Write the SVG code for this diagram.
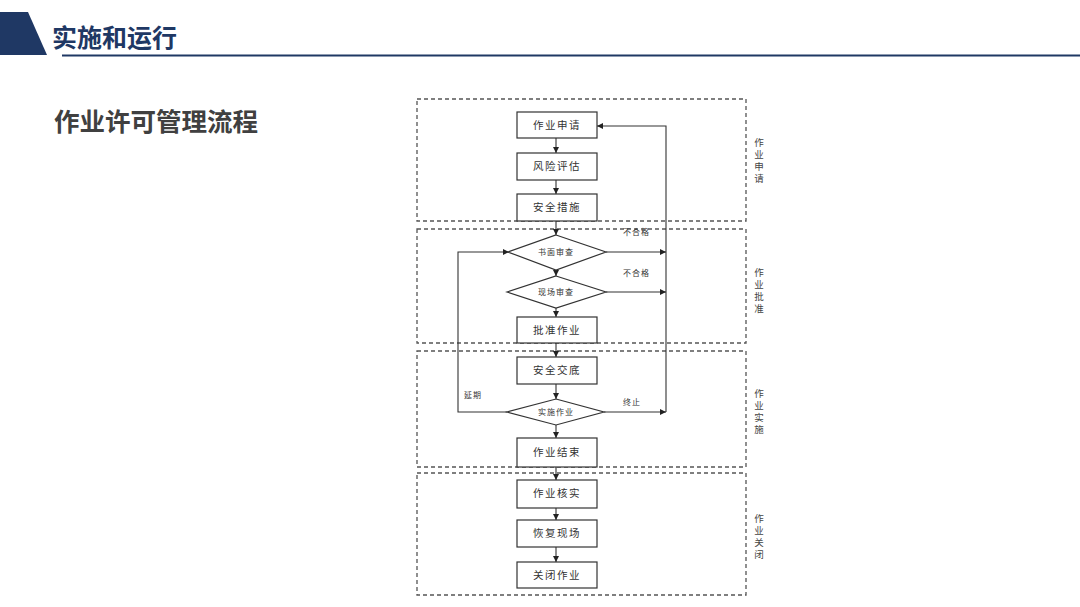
<svg xmlns="http://www.w3.org/2000/svg" width="1080" height="607" viewBox="0 0 1080 607">
<defs>
<marker id="ah" viewBox="0 0 10 10" refX="10" refY="5" markerWidth="6" markerHeight="6" markerUnits="userSpaceOnUse" orient="auto">
<path d="M0,0 L10,5 L0,10 z" fill="#222"/>
</marker>
<style>
.cjk{font-family:"Noto Sans CJK SC","Noto Sans",sans-serif;}
.zone{fill:none;stroke:#555;stroke-width:1.3;stroke-dasharray:4 3;}
.box{fill:#fff;stroke:#333;stroke-width:1.2;}
.bt{font-size:10.5px;fill:#333;text-anchor:middle;letter-spacing:1.5px;}
.dt{font-size:8px;fill:#333;text-anchor:middle;letter-spacing:1px;}
.lt{font-size:8px;fill:#333;letter-spacing:1px;}
.side{font-size:9.5px;fill:#444;text-anchor:middle;}
.ln{fill:none;stroke:#333;stroke-width:1.1;}
</style>
</defs>
<rect width="1080" height="607" fill="#fff"/>
<g id="header">
<path d="M0,12 L28,12 L47,55 L0,55 z" fill="#1f3864"/>
<line x1="62" y1="55.5" x2="1080" y2="55.5" stroke="#1f3864" stroke-width="2"/>
<text x="52" y="47" class="cjk" font-size="25" font-weight="bold" fill="#1f3864">实施和运行</text>
</g>
<g id="subtitle">
<text x="54" y="131" class="cjk" font-size="25.5" font-weight="bold" fill="#404040">作业许可管理流程</text>
</g>
<g id="zones">
<rect class="zone" x="417" y="99" width="329" height="122"/>
<rect class="zone" x="417" y="229" width="329" height="114"/>
<rect class="zone" x="417" y="351" width="329" height="116"/>
<rect class="zone" x="417" y="473" width="329" height="122"/>
<text class="side cjk" x="759" y="146">作</text><text class="side cjk" x="759" y="158">业</text><text class="side cjk" x="759" y="170">申</text><text class="side cjk" x="759" y="182">请</text>
<text class="side cjk" x="759" y="276">作</text><text class="side cjk" x="759" y="288">业</text><text class="side cjk" x="759" y="300">批</text><text class="side cjk" x="759" y="312">准</text>
<text class="side cjk" x="759" y="397">作</text><text class="side cjk" x="759" y="409">业</text><text class="side cjk" x="759" y="421">实</text><text class="side cjk" x="759" y="433">施</text>
<text class="side cjk" x="759" y="522">作</text><text class="side cjk" x="759" y="534">业</text><text class="side cjk" x="759" y="546">关</text><text class="side cjk" x="759" y="558">闭</text>
</g>
<g id="connectors">
<line class="ln" x1="556" y1="138" x2="556" y2="153" marker-end="url(#ah)"/>
<line class="ln" x1="556" y1="180" x2="556" y2="194" marker-end="url(#ah)"/>
<line class="ln" x1="556" y1="221" x2="556" y2="235" marker-end="url(#ah)"/>
<line class="ln" x1="556" y1="270" x2="556" y2="276" marker-end="url(#ah)"/>
<line class="ln" x1="556" y1="308" x2="556" y2="317" marker-end="url(#ah)"/>
<line class="ln" x1="556" y1="343" x2="556" y2="357" marker-end="url(#ah)"/>
<line class="ln" x1="556" y1="384" x2="556" y2="399" marker-end="url(#ah)"/>
<line class="ln" x1="556" y1="425" x2="556" y2="438" marker-end="url(#ah)"/>
<line class="ln" x1="556" y1="467" x2="556" y2="480" marker-end="url(#ah)"/>
<line class="ln" x1="556" y1="508" x2="556" y2="520" marker-end="url(#ah)"/>
<line class="ln" x1="556" y1="547" x2="556" y2="562" marker-end="url(#ah)"/>
<polyline class="ln" points="666,412 666,126 597,126" marker-end="url(#ah)"/>
<line class="ln" x1="606" y1="252" x2="666" y2="252" marker-end="url(#ah)"/>
<line class="ln" x1="606" y1="292" x2="666" y2="292" marker-end="url(#ah)"/>
<line class="ln" x1="604" y1="412" x2="666" y2="412" marker-end="url(#ah)"/>
<polyline class="ln" points="507,412 458,412 458,252 509,252" marker-end="url(#ah)"/>
<text class="lt cjk" x="623" y="235">不合格</text>
<text class="lt cjk" x="623" y="276">不合格</text>
<text class="lt cjk" x="464" y="398">延期</text>
<text class="lt cjk" x="623" y="405">终止</text>
</g>
<g id="n1"><rect class="box" x="517" y="112" width="80" height="26"/><text class="bt cjk" x="557" y="129">作业申请</text></g>
<g id="n2"><rect class="box" x="517" y="153" width="80" height="27"/><text class="bt cjk" x="557" y="170">风险评估</text></g>
<g id="n3"><rect class="box" x="517" y="194" width="80" height="27"/><text class="bt cjk" x="557" y="211">安全措施</text></g>
<g id="d1"><polygon class="box" points="556,235 606,252 556,270 508,252"/><text class="dt cjk" x="556" y="255">书面审查</text></g>
<g id="d2"><polygon class="box" points="556,276 606,292 556,308 507,292"/><text class="dt cjk" x="556" y="295">现场审查</text></g>
<g id="n4"><rect class="box" x="517" y="317" width="80" height="26"/><text class="bt cjk" x="557" y="334">批准作业</text></g>
<g id="n5"><rect class="box" x="517" y="357" width="80" height="27"/><text class="bt cjk" x="557" y="374">安全交底</text></g>
<g id="d3"><polygon class="box" points="556,399 604,412 556,425 507,412"/><text class="dt cjk" x="556" y="415">实施作业</text></g>
<g id="n6"><rect class="box" x="517" y="438" width="80" height="29"/><text class="bt cjk" x="557" y="456">作业结束</text></g>
<g id="n7"><rect class="box" x="517" y="480" width="80" height="28"/><text class="bt cjk" x="557" y="497">作业核实</text></g>
<g id="n8"><rect class="box" x="517" y="520" width="80" height="27"/><text class="bt cjk" x="557" y="537">恢复现场</text></g>
<g id="n9"><rect class="box" x="517" y="562" width="80" height="26"/><text class="bt cjk" x="557" y="579">关闭作业</text></g>
</svg>
